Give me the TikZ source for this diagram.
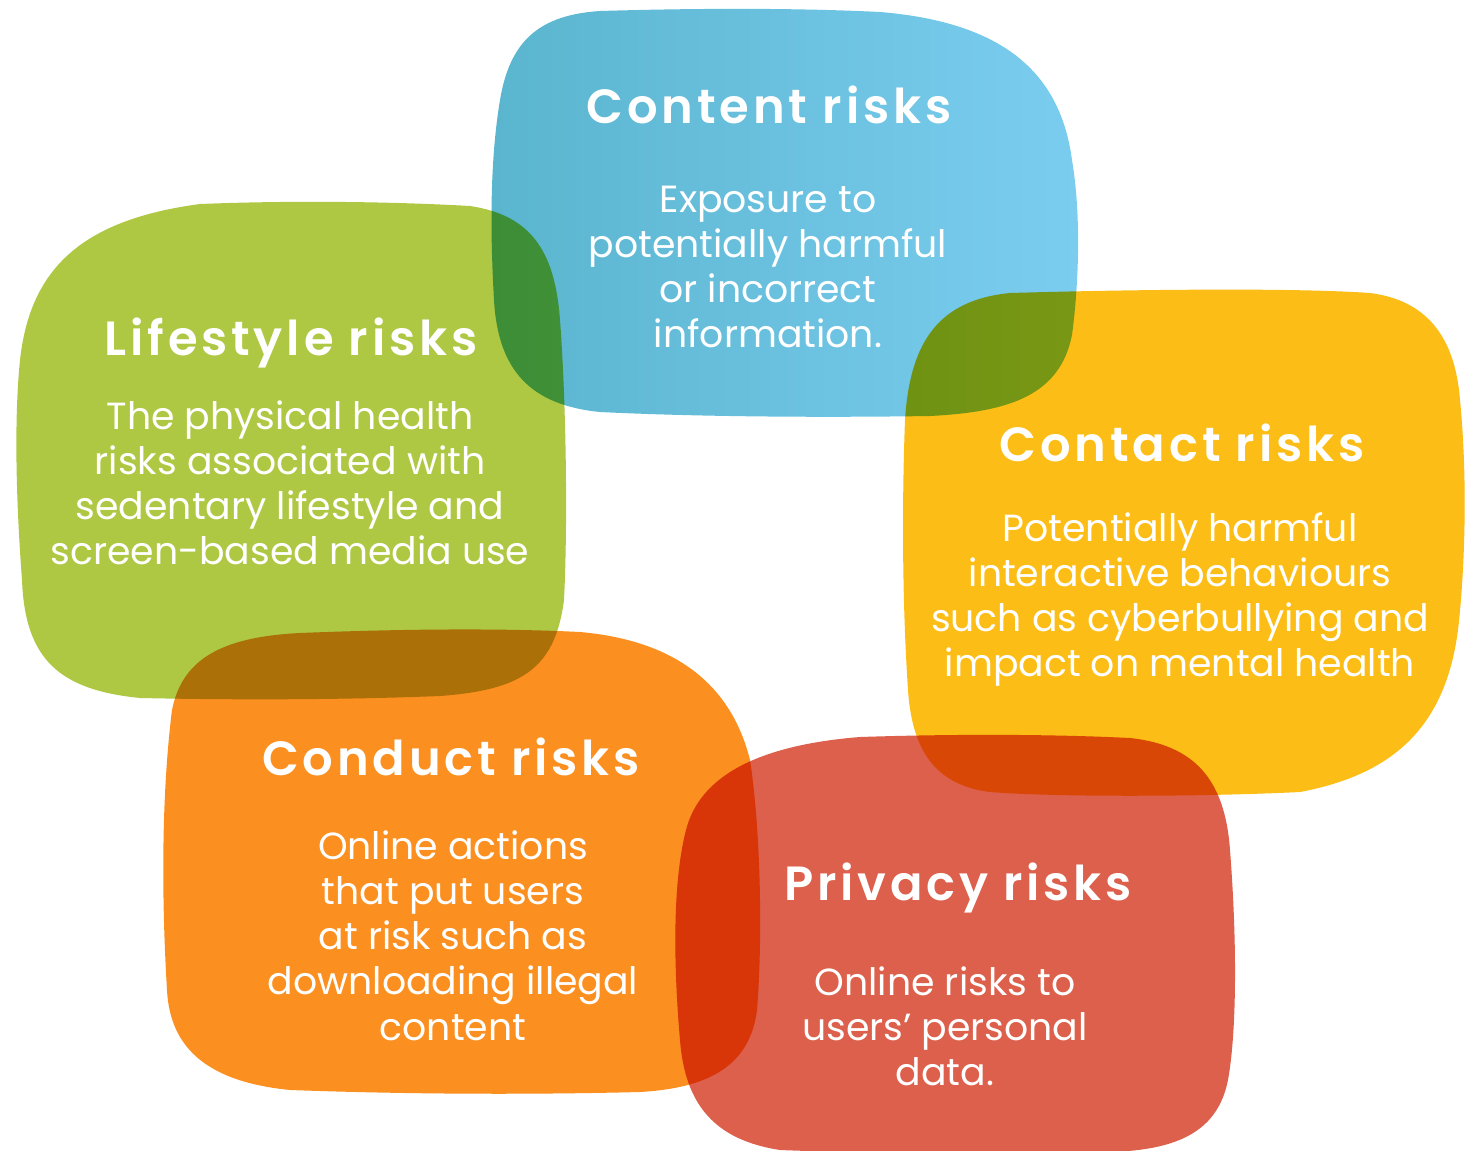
\documentclass[tikz,border=0pt]{standalone}
\usepackage{fontspec}
\setmainfont{Poppins}
\newfontfamily\ttlfont{Poppins SemiBold}[LetterSpace=8]
\definecolor{bluel}{RGB}{90,181,206}
\definecolor{bluer}{RGB}{123,205,240}
\definecolor{lgreen}{RGB}{174,200,68}
\definecolor{lyellow}{RGB}{252,189,22}
\definecolor{lorange}{RGB}{251,143,32}
\definecolor{lred}{RGB}{220,96,75}
\begin{document}
\begin{tikzpicture}[x=1pt,y=-1pt,
  ttl/.style={text=white, anchor=base, inner sep=0pt,
    font=\fontsize{48}{56}\selectfont\ttlfont},
  txt/.style={text=white, anchor=base, inner sep=0pt,
    font=\fontsize{37.8}{45.3}\selectfont}]
\useasboundingbox (0,0) rectangle (1468,1151);
\begin{scope}[blend mode=multiply]
% Content (blue)
\shade[left color=bluel, right color=bluer] (600,11)
 .. controls (700,8) and (800,8) .. (880,12)
 .. controls (1000,22) and (1060,70) .. (1072,160)
 .. controls (1082,220) and (1078,290) .. (1072,335)
 .. controls (1060,395) and (1010,412) .. (930,416)
 .. controls (800,418) and (680,416) .. (600,412)
 .. controls (530,405) and (498,370) .. (494,300)
 .. controls (490,230) and (490,160) .. (500,100)
 .. controls (510,40) and (540,15) .. (600,11) -- cycle;
% Lifestyle (green)
\fill[lgreen] (200,204)
 .. controls (300,200) and (400,202) .. (470,206)
 .. controls (530,215) and (555,250) .. (560,320)
 .. controls (566,400) and (568,520) .. (564,600)
 .. controls (555,670) and (520,690) .. (440,696)
 .. controls (340,700) and (230,700) .. (140,698)
 .. controls (60,690) and (25,660) .. (22,580)
 .. controls (16,500) and (14,420) .. (20,360)
 .. controls (30,270) and (80,220) .. (200,204) -- cycle;
% Contact (yellow)
\fill[lyellow] (1010,293)
 .. controls (1150,289) and (1300,288) .. (1370,293)
 .. controls (1425,300) and (1455,335) .. (1460,400)
 .. controls (1467,470) and (1466,560) .. (1458,630)
 .. controls (1445,730) and (1390,775) .. (1300,792)
 .. controls (1200,797) and (1050,797) .. (990,792)
 .. controls (935,785) and (912,750) .. (908,690)
 .. controls (902,600) and (902,500) .. (905,420)
 .. controls (910,340) and (940,300) .. (1010,293) -- cycle;
% Conduct (orange)
\fill[lorange] (300,633)
 .. controls (400,629) and (500,628) .. (580,632)
 .. controls (670,640) and (730,680) .. (750,760)
 .. controls (762,840) and (762,950) .. (757,1010)
 .. controls (750,1065) and (710,1088) .. (640,1092)
 .. controls (520,1095) and (400,1094) .. (290,1090)
 .. controls (210,1082) and (170,1050) .. (167,990)
 .. controls (161,890) and (162,790) .. (172,710)
 .. controls (182,660) and (220,637) .. (300,633) -- cycle;
% Privacy (red)
\fill[lred] (860,737)
 .. controls (950,734) and (1050,734) .. (1130,738)
 .. controls (1195,745) and (1225,780) .. (1230,850)
 .. controls (1237,940) and (1237,1030) .. (1228,1080)
 .. controls (1218,1130) and (1180,1150) .. (1110,1152)
 .. controls (1000,1154) and (880,1154) .. (780,1150)
 .. controls (715,1140) and (685,1105) .. (680,1040)
 .. controls (673,960) and (673,880) .. (686,830)
 .. controls (700,775) and (760,745) .. (860,737) -- cycle;
\end{scope}
% texts
\node[ttl] (contentT) at (769,123) {Content risks};
\node[txt] (contentB) at (768,212) {\begin{tabular}[t]{@{}c@{}}Exposure to\\potentially harmful\\or incorrect\\information.\end{tabular}};
\node[ttl] (lifeT) at (291,355) {Lifestyle risks};
\node[txt] (lifeB) at (290,429) {\begin{tabular}[t]{@{}c@{}}The physical health\\risks associated with\\sedentary lifestyle and\\screen-based media use\end{tabular}};
\node[ttl] (contactT) at (1182,461) {Contact risks};
\node[txt] (contactB) at (1180,541) {\begin{tabular}[t]{@{}c@{}}Potentially harmful\\interactive behaviours\\such as cyberbullying and\\impact on mental health\end{tabular}};
\node[ttl] (conductT) at (451,775) {Conduct risks};
\node[txt] (conductB) at (453,859) {\begin{tabular}[t]{@{}c@{}}Online actions\\that put users\\at risk such as\\downloading illegal\\content\end{tabular}};
\node[ttl] (privT) at (958,900) {Privacy risks};
\node[txt] (privB) at (945,995) {\begin{tabular}[t]{@{}c@{}}Online risks to\\users’ personal\\data.\end{tabular}};
\end{tikzpicture}
\end{document}
